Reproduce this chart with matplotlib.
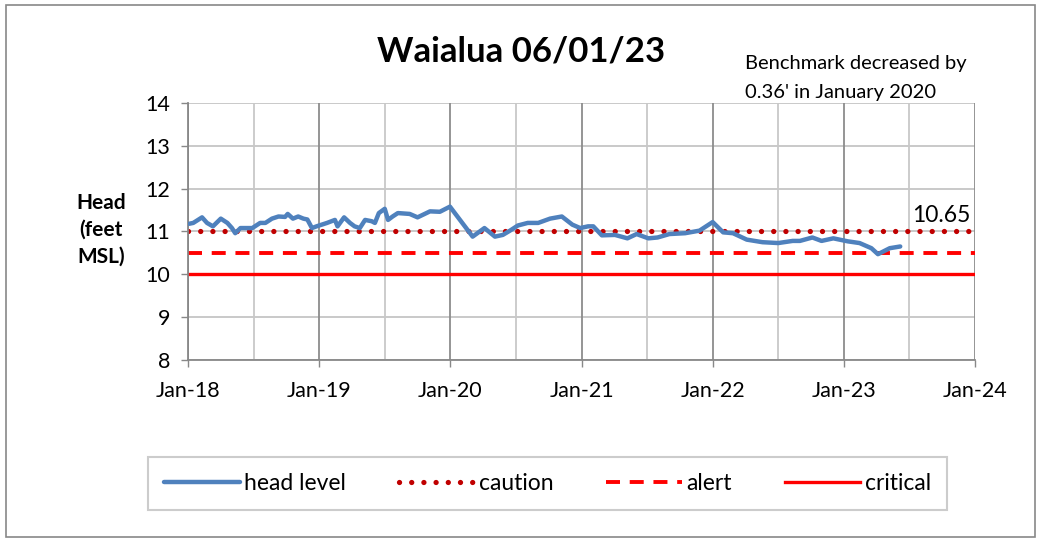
import matplotlib.pyplot as plt
from matplotlib.patches import Rectangle

# head level readings (decimal year, feet MSL)
years = [2018.008, 2018.04, 2018.107, 2018.145, 2018.19, 2018.25, 2018.30, 2018.335,
         2018.36, 2018.40, 2018.49, 2018.55, 2018.59, 2018.64, 2018.69, 2018.74,
         2018.76, 2018.80, 2018.84, 2018.88, 2018.91, 2018.945, 2018.98, 2019.02,
         2019.06, 2019.12, 2019.14, 2019.19, 2019.235, 2019.27, 2019.31, 2019.35,
         2019.40, 2019.425, 2019.455, 2019.50, 2019.525, 2019.56, 2019.60, 2019.69,
         2019.75, 2019.845, 2019.92, 2019.997, 2020.17, 2020.26, 2020.34, 2020.40,
         2020.455, 2020.515, 2020.59, 2020.67, 2020.76, 2020.85, 2020.93, 2020.99,
         2021.05, 2021.09, 2021.155, 2021.255, 2021.35, 2021.42, 2021.51, 2021.58,
         2021.67, 2021.79, 2021.90, 2022.00, 2022.08, 2022.155, 2022.26, 2022.38,
         2022.50, 2022.61, 2022.665, 2022.76, 2022.83, 2022.92, 2023.03, 2023.12,
         2023.21, 2023.26, 2023.35, 2023.43]
head = [11.18, 11.20, 11.33, 11.20, 11.12, 11.30, 11.20, 11.08,
        10.96, 11.08, 11.08, 11.20, 11.20, 11.30, 11.35, 11.34,
        11.41, 11.30, 11.35, 11.30, 11.28, 11.08, 11.12, 11.16,
        11.20, 11.27, 11.12, 11.33, 11.20, 11.12, 11.08, 11.27,
        11.24, 11.20, 11.43, 11.53, 11.27, 11.35, 11.43, 11.41,
        11.33, 11.47, 11.46, 11.58, 10.88, 11.08, 10.88, 10.92,
        11.02, 11.14, 11.20, 11.20, 11.30, 11.35, 11.16, 11.08,
        11.12, 11.12, 10.91, 10.92, 10.84, 10.94, 10.84, 10.86,
        10.94, 10.96, 11.02, 11.22, 10.98, 10.96, 10.81, 10.75,
        10.73, 10.78, 10.78, 10.86, 10.78, 10.84, 10.77, 10.73,
        10.61, 10.47, 10.61, 10.65]

caution = 11.0
alert = 10.5
critical = 10.0
latest = "10.65"

tick_years = [2018, 2019, 2020, 2021, 2022, 2023, 2024]
tick_labels = ["Jan-18", "Jan-19", "Jan-20", "Jan-21", "Jan-22", "Jan-23", "Jan-24"]

plt.rcParams['font.family'] = ['Lato', 'DejaVu Sans']

fig = plt.figure(figsize=(10.41, 5.42), dpi=100)
ax = fig.add_axes([0.1806, 0.3358, 0.7560, 0.4742])

# outer border
fig.patches.append(Rectangle((0.006, 0.01), 0.988, 0.98, transform=fig.transFigure,
                             fill=False, edgecolor='#888888', lw=1.2))

# gridlines
for y in range(8, 15):
    ax.axhline(y, color='#c0c0c0', lw=1.2, zorder=0)
for yr in tick_years:
    ax.axvline(yr, color='#8c8c8c', lw=1.3, zorder=0)
    ax.axvline(yr + 0.5, color='#c8c8c8', lw=1.3, zorder=0)

ax.plot(years, head, color='#4F81BD', lw=3.2, solid_capstyle='round', label='head level', zorder=3)
ax.axhline(caution, color='#C00000', lw=3.8, ls=(0, (0.01, 2.3)), dash_capstyle='round',
           label='caution', zorder=2)
ax.axhline(alert, color='#FF0000', lw=2.8, ls=(0, (3.6, 2.5)), label='alert', zorder=2)
ax.axhline(critical, color='#FF0000', lw=2.4, label='critical', zorder=2)

ax.set_xlim(2018, 2024)
ax.set_ylim(8, 14)
ax.set_xticks(tick_years)
ax.set_xticklabels(tick_labels)
ax.set_yticks(range(8, 15))
ax.tick_params(axis='both', labelsize=15.5, colors='#000000', length=5, width=1, pad=6)
ax.tick_params(axis='x', color='#888888', pad=10)
ax.tick_params(axis='y', color='#888888', pad=8)
for s in ['top', 'right']:
    ax.spines[s].set_visible(False)
for s in ['left', 'bottom']:
    ax.spines[s].set_color('#888888')
    ax.spines[s].set_linewidth(1.3)

fig.text(0.501, 0.905, "Waialua 06/01/23", ha='center', va='center', fontsize=25, fontweight='bold')
fig.text(0.716, 0.882, "Benchmark decreased by", ha='left', va='center', fontsize=14.5)
fig.text(0.716, 0.830, "0.36' in January 2020", ha='left', va='center', fontsize=14.5)
fig.text(0.097, 0.576, "Head\n(feet\nMSL)", ha='center', va='center', fontsize=15,
         fontweight='bold', linespacing=1.45)
ax.text(2023.52, 11.12, latest, ha='left', va='bottom', fontsize=16.5)

leg = fig.legend(loc='center', bbox_to_anchor=(0.526, 0.108), ncol=4, fontsize=16.5,
                 frameon=True, fancybox=False, edgecolor='#c0c0c0', borderpad=0.7,
                 handlelength=3.3, handletextpad=0.2, columnspacing=2.3)
leg.get_frame().set_linewidth(1.5)

fig.savefig("out.png", dpi=100)
